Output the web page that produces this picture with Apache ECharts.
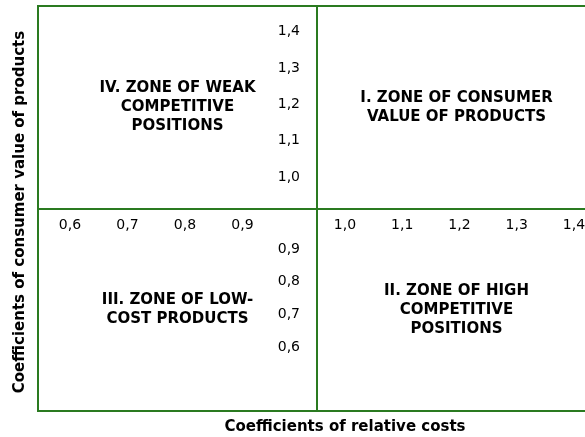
<!DOCTYPE html>
<html>
<head>
<meta charset="utf-8">
<script src="https://cdn.jsdelivr.net/npm/echarts@6/dist/echarts.min.js"></script>
<style>
html,body{margin:0;padding:0;background:#fff;}
#chart{width:585px;height:437px;}
</style>
</head>
<body>
<div id="chart"></div>
<script>
// Tick values (shown with a decimal comma)
const xLeftTicks = [0.6, 0.7, 0.8, 0.9];
const xRightTicks = [1.0, 1.1, 1.2, 1.3, 1.4];
const yUpperTicks = [1.0, 1.1, 1.2, 1.3, 1.4];
const yLowerTicks = [0.6, 0.7, 0.8, 0.9];

// Zone labels placed at quadrant centres (in quadrant coordinates)
const zoneNames = [
  'IV. ZONE OF WEAK\nCOMPETITIVE\nPOSITIONS',
  'I. ZONE OF CONSUMER\nVALUE OF PRODUCTS',
  'III. ZONE OF LOW-\nCOST PRODUCTS',
  'II. ZONE OF HIGH\nCOMPETITIVE\nPOSITIONS'
];
const zoneX = [-0.5, 0.5, -0.5, 0.5];
const zoneY = [0.5, 0.5, -0.5, -0.5];

const xTitle = 'Coefficients of relative costs';
const yTitle = 'Coefficients of consumer value of products';

const GREEN = '#2a7a20';
const FONT = 'DejaVu Sans, Verdana, sans-serif';
const fmt = v => (Math.round(v * 10) / 10).toFixed(1).replace('.', ',');

const chart = echarts.init(document.getElementById('chart'), null, {renderer: 'canvas'});

const hiddenAxis = (gi) => ({
  gridIndex: gi, type: 'value',
  axisLine: {show: false}, axisTick: {show: false},
  axisLabel: {show: false}, splitLine: {show: false}
});

const tickAxis = (gi, ticks, margin) => ({
  gridIndex: gi, type: 'value',
  min: Math.min(...ticks), max: Math.max(...ticks), interval: 0.1,
  axisLine: {show: false}, axisTick: {show: false}, splitLine: {show: false},
  axisLabel: {show: true, formatter: fmt, color: '#000', fontSize: 14, fontFamily: FONT, margin: margin}
});

const gridBase = {outerBoundsMode: 'none', containLabel: false};

chart.setOption({
  animation: false,
  backgroundColor: '#fff',
  grid: [
    Object.assign({left: 38, top: 6, width: 558, height: 405, show: true, borderColor: GREEN, borderWidth: 2, backgroundColor: 'transparent'}, gridBase),
    Object.assign({left: 70, top: 100, width: 172.5, height: 109}, gridBase),
    Object.assign({left: 345, top: 100, width: 229, height: 109}, gridBase),
    Object.assign({left: 308, top: 31.5, width: 5, height: 145.5}, gridBase),
    Object.assign({left: 308, top: 249, width: 5, height: 98}, gridBase)
  ],
  xAxis: [
    {gridIndex: 0, type: 'value', min: -1, max: 1,
     axisLine: {show: true, onZero: true, lineStyle: {color: GREEN, width: 2}},
     axisTick: {show: false}, axisLabel: {show: false}, splitLine: {show: false}},
    tickAxis(1, xLeftTicks, 9),
    tickAxis(2, xRightTicks, 9),
    hiddenAxis(3),
    hiddenAxis(4)
  ],
  yAxis: [
    {gridIndex: 0, type: 'value', min: -1, max: 1,
     axisLine: {show: true, onZero: true, lineStyle: {color: GREEN, width: 2}},
     axisTick: {show: false}, axisLabel: {show: false}, splitLine: {show: false}},
    hiddenAxis(1),
    hiddenAxis(2),
    tickAxis(3, yUpperTicks, 8),
    tickAxis(4, yLowerTicks, 8)
  ],
  series: [
    {type: 'scatter', xAxisIndex: 0, yAxisIndex: 0, symbolSize: 0, silent: true,
     data: zoneX.map((x, i) => [x, zoneY[i]])},
    {type: 'scatter', xAxisIndex: 1, yAxisIndex: 1, data: []},
    {type: 'scatter', xAxisIndex: 2, yAxisIndex: 2, data: []},
    {type: 'scatter', xAxisIndex: 3, yAxisIndex: 3, data: []},
    {type: 'scatter', xAxisIndex: 4, yAxisIndex: 4, data: []}
  ]
});

// Zone labels positioned through the main grid's own scales
const zoneGraphics = zoneNames.map((name, i) => {
  const p = chart.convertToPixel({xAxisIndex: 0, yAxisIndex: 0}, [zoneX[i], zoneY[i]]);
  return {type: 'text', x: p[0], y: p[1], silent: true,
    style: {text: name, fill: '#000', font: 'bold 15px ' + FONT, lineHeight: 19,
            textAlign: 'center', textVerticalAlign: 'middle'}};
});

chart.setOption({
  graphic: zoneGraphics.concat([
    {type: 'text', x: 345, y: 427, style: {text: xTitle, fill: '#000', font: 'bold 15px ' + FONT, textAlign: 'center', textVerticalAlign: 'middle'}},
    {type: 'text', x: 20, y: 212, rotation: Math.PI / 2, style: {text: yTitle, fill: '#000', font: 'bold 15px ' + FONT, textAlign: 'center', textVerticalAlign: 'middle'}}
  ])
});
</script>
</body>
</html>
